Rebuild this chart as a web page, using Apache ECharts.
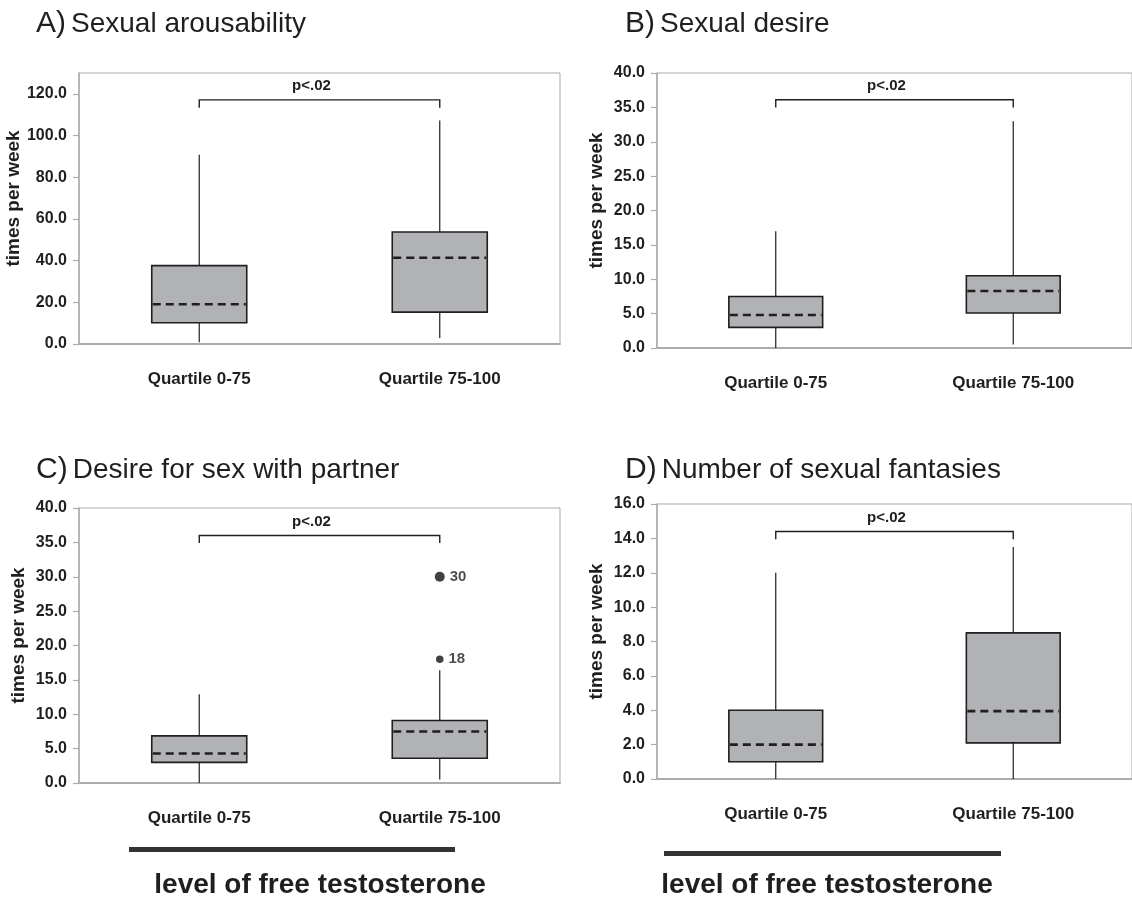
<!DOCTYPE html>
<html>
<head>
<meta charset="utf-8">
<script src="https://cdn.jsdelivr.net/npm/echarts@6/dist/echarts.min.js"></script>
<style>
  html, body { margin: 0; padding: 0; background: #ffffff; }
  #chart { width: 1132px; height: 897px; }
</style>
</head>
<body>
<div id="chart"></div>
<script>
// ---- data ----
const categories = ['Quartile 0-75', 'Quartile 75-100'];

const panelLetters = ['A)', 'B)', 'C)', 'D)'];
const panelNames = ['Sexual arousability', 'Sexual desire', 'Desire for sex with partner', 'Number of sexual fantasies'];

// per group: [min, Q1, median, Q3, max]
const arousability = [[0.8, 10.2, 19.1, 37.6, 90.8], [2.9, 15.3, 41.4, 53.7, 107.2]];
const desire = [[0.0, 3.0, 4.8, 7.5, 17.0], [0.5, 5.1, 8.3, 10.5, 33.0]];
const partnerDesire = [[0.0, 3.0, 4.3, 6.85, 12.9], [0.5, 3.6, 7.5, 9.1, 16.4]];
const fantasies = [[0.0, 1.0, 2.0, 4.0, 12.0], [0.0, 2.1, 3.95, 8.5, 13.5]];

// outlying values in the upper group of panel C
const partnerOutliers = [30, 18];

// significance bracket: [bar level, leg end level]
const bracketLevels = [[117.1, 113.3], [36.1, 35.0], [36.0, 34.9], [14.4, 13.95]];
const significance = 'p<.02';

const yMax = [130, 40, 40, 16];
const yStep = [20, 5, 5, 2];

const axisName = 'times per week';
const footerText = 'level of free testosterone';

// ---- layout & styles ----
const FONT = '"Liberation Sans", Arial, Helvetica, sans-serif';
const INK = '#1f1f1f';
const FRAME = '#ababab';
const BOX_FILL = '#b1b2b5';

const grids = [
  { left: 79, top: 73, width: 481, height: 271 },
  { left: 657, top: 73, width: 480, height: 275 },
  { left: 79, top: 508, width: 481, height: 275 },
  { left: 657, top: 504, width: 480, height: 275 }
];

const panels = [arousability, desire, partnerDesire, fantasies];

function renderBox(params, api) {
  const x = api.value(0);
  const lo = api.coord([x, api.value(1)]);
  const q1 = api.coord([x, api.value(2)]);
  const med = api.coord([x, api.value(3)]);
  const q3 = api.coord([x, api.value(4)]);
  const hi = api.coord([x, api.value(5)]);
  const bw = api.size([1, 0])[0] * 0.395;
  const cx = lo[0];
  return {
    type: 'group',
    children: [
      { type: 'line', shape: { x1: cx, y1: hi[1], x2: cx, y2: q3[1] }, style: { stroke: INK, lineWidth: 1.2 } },
      { type: 'line', shape: { x1: cx, y1: q1[1], x2: cx, y2: lo[1] }, style: { stroke: INK, lineWidth: 1.2 } },
      { type: 'rect', shape: { x: cx - bw / 2, y: q3[1], width: bw, height: q1[1] - q3[1] },
        style: { fill: BOX_FILL, stroke: INK, lineWidth: 1.6 } },
      { type: 'line', shape: { x1: cx - bw / 2 + 1, y1: med[1], x2: cx + bw / 2 - 1, y2: med[1] },
        style: { stroke: INK, lineWidth: 2.6, lineDash: [8, 5] } }
    ]
  };
}

function renderBracket(params, api) {
  const a = api.coord([api.value(0), api.value(2)]);
  const b = api.coord([api.value(1), api.value(2)]);
  const legA = api.coord([api.value(0), api.value(3)]);
  return {
    type: 'group',
    children: [
      { type: 'polyline', shape: { points: [[a[0], legA[1]], a, b, [b[0], legA[1]]] },
        style: { stroke: INK, lineWidth: 1.4, fill: null } },
      { type: 'text', style: { text: significance, x: (a[0] + b[0]) / 2 - 8, y: a[1] - 14,
        align: 'center', verticalAlign: 'middle', fontFamily: FONT, fontWeight: 'bold', fontSize: 15, fill: INK } }
    ]
  };
}

const option = {
  animation: false,
  backgroundColor: '#ffffff',
  title: [
    { left: 31, top: 4 },
    { left: 620, top: 4 },
    { left: 31, top: 450 },
    { left: 620, top: 450 }
  ].map((pos, i) => ({
    left: pos.left, top: pos.top,
    text: '{k|' + panelLetters[i] + '} {t|' + panelNames[i] + '}',
    textStyle: {
      fontWeight: 'normal',
      rich: {
        k: { fontFamily: FONT, fontWeight: 'normal', fontSize: 30, color: INK },
        t: { fontFamily: FONT, fontWeight: 'normal', fontSize: 28, color: INK }
      }
    }
  })),
  grid: grids.map(g => Object.assign({ show: true, borderColor: FRAME, borderWidth: 1, backgroundColor: 'transparent' }, g)),
  xAxis: grids.map((g, i) => ({
    type: 'category', gridIndex: i, data: categories,
    axisLine: { lineStyle: { color: FRAME, width: 2 } },
    axisTick: { show: false },
    axisLabel: { margin: 27, fontFamily: FONT, fontWeight: 'bold', fontSize: 17, color: INK }
  })),
  yAxis: grids.map((g, i) => ({
    type: 'value', gridIndex: i, min: 0, max: yMax[i], interval: yStep[i],
    name: axisName, nameLocation: 'middle', nameGap: 51, nameRotate: 90,
    nameTextStyle: { fontFamily: FONT, fontWeight: 'bold', fontSize: 19, color: INK, padding: [0, 0, 0, 20] },
    axisLine: { show: true, lineStyle: { color: FRAME, width: 1.5 } },
    axisTick: { show: true, length: 6, lineStyle: { color: FRAME, width: 1.2 } },
    splitLine: { show: false },
    axisLabel: {
      margin: 12, fontFamily: FONT, fontWeight: 'bold', fontSize: 16, color: INK, showMaxLabel: yMax[i] % yStep[i] === 0,
      formatter: v => (Math.abs(v / yStep[i] - Math.round(v / yStep[i])) < 1e-6 ? v.toFixed(1) : '')
    }
  })),
  series: [].concat(
    panels.map((stats, i) => ({
      type: 'custom', xAxisIndex: i, yAxisIndex: i,
      renderItem: renderBox,
      encode: { x: 0, y: [1, 2, 3, 4, 5] },
      data: stats.map((s, k) => [k].concat(s)),
      z: 2
    })),
    bracketLevels.map((lv, i) => ({
      type: 'custom', xAxisIndex: i, yAxisIndex: i,
      renderItem: renderBracket,
      encode: { x: [0, 1], y: [2, 3] },
      data: [[0, 1, lv[0], lv[1]]],
      z: 3
    })),
    [{
      type: 'scatter', xAxisIndex: 2, yAxisIndex: 2,
      data: partnerOutliers.map(v => [1, v]),
      symbol: 'circle',
      symbolSize: (val) => (val[1] >= 25 ? 10 : 7.5),
      itemStyle: { color: '#111111' },
      label: {
        show: true, position: 'right', distance: 5,
        formatter: p => String(p.value[1]),
        fontFamily: FONT, fontWeight: 'bold', fontSize: 15, color: INK
      },
      z: 4
    }]
  ),
  graphic: [
    { type: 'rect', shape: { x: 129, y: 847, width: 326, height: 5 }, style: { fill: '#333333' } },
    { type: 'rect', shape: { x: 664, y: 851, width: 337, height: 5 }, style: { fill: '#333333' } },
    { type: 'text', style: { text: footerText, x: 320, y: 885, align: 'center', verticalAlign: 'middle',
      fontFamily: FONT, fontWeight: 'bold', fontSize: 28, fill: INK } },
    { type: 'text', style: { text: footerText, x: 827, y: 885, align: 'center', verticalAlign: 'middle',
      fontFamily: FONT, fontWeight: 'bold', fontSize: 28, fill: INK } }
  ]
};

const chart = echarts.init(document.getElementById('chart'), null, { renderer: 'canvas' });
chart.setOption(option);
</script>
</body>
</html>
